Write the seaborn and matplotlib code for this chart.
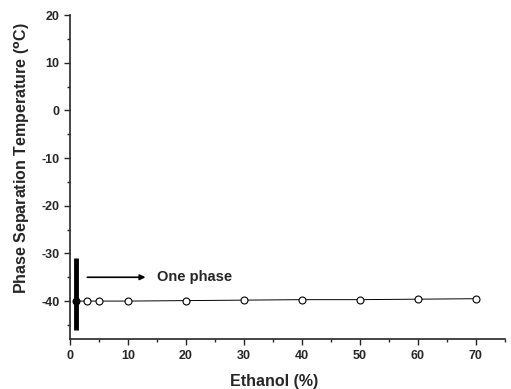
import matplotlib
matplotlib.use("Agg")
import matplotlib.pyplot as plt
import pandas as pd
import seaborn as sns
from matplotlib.ticker import MultipleLocator

# data
ethanol = [1, 3, 5, 10, 20, 30, 40, 50, 60, 70]
temperature = [-40.0, -40.0, -40.0, -40.0, -39.9, -39.8, -39.7, -39.7, -39.6, -39.5]
bar_x = 1
bar_low, bar_high = -46, -31

df = pd.DataFrame({"Ethanol (%)": ethanol, "T": temperature})

sns.set_theme(style="ticks")
plt.rcParams['font.family'] = ['Liberation Sans', 'DejaVu Sans']
plt.rcParams['font.weight'] = 'bold'
plt.rcParams['axes.unicode_minus'] = False
plt.rcParams['mathtext.default'] = 'bf'

fig = plt.figure(figsize=(5.11, 3.89), dpi=100)
ax = fig.add_axes([0.137, 0.128, 0.851, 0.833])

sns.lineplot(data=df, x="Ethanol (%)", y="T", ax=ax, color="black", linewidth=0.7,
             marker="o", markersize=5, markerfacecolor="white", markeredgecolor="black",
             markeredgewidth=0.8)
# first point filled, thick vertical bar
ax.plot([ethanol[0]], [temperature[0]], "o", color="black", markersize=4)
ax.vlines(bar_x, bar_low, bar_high, color="black", linewidth=3.5)

ax.annotate("", xy=(13.5, -35), xytext=(2.5, -35),
            arrowprops=dict(arrowstyle="-|>", color="black", lw=1.2, mutation_scale=8))
ax.text(15, -35, "One phase", fontsize=10.5, fontweight="bold", va="center", ha="left")

ax.set_xlim(0, 75)
ax.set_ylim(-48, 20)
ax.xaxis.set_major_locator(MultipleLocator(10))
ax.xaxis.set_minor_locator(MultipleLocator(5))
ax.yaxis.set_major_locator(MultipleLocator(10))
ax.yaxis.set_minor_locator(MultipleLocator(5))
ax.tick_params(which="major", direction="out", length=4, width=1, labelsize=9)
ax.tick_params(which="minor", direction="out", length=2.5, width=1)
for lab in ax.get_xticklabels() + ax.get_yticklabels():
    lab.set_fontweight("bold")

sns.despine(ax=ax)
for s in ["left", "bottom"]:
    ax.spines[s].set_linewidth(1.2)

ax.set_xlabel("Ethanol (%)", fontsize=11.5, fontweight="bold")
ax.set_ylabel("Phase Separation Temperature ($^{o}$C)", fontsize=11.5, fontweight="bold")
ax.xaxis.set_label_coords(0.469, -0.108)
ax.yaxis.set_label_coords(-0.087, 0.56)

fig.savefig("out.png", dpi=100)
